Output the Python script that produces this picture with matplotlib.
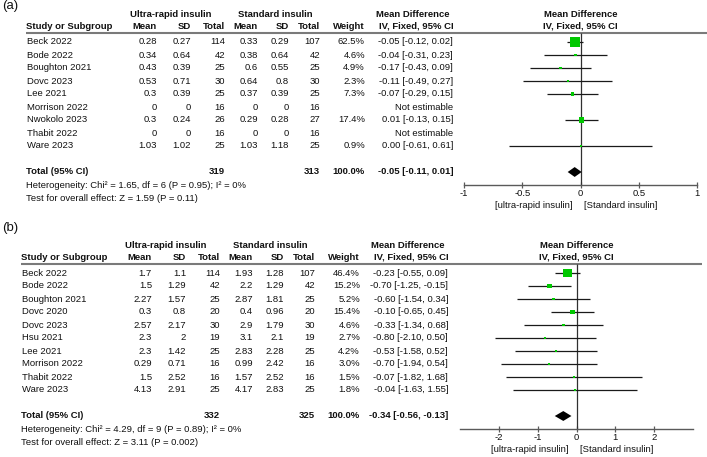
import numpy as np
import matplotlib.pyplot as plt

plt.rcParams['font.family'] = ['Liberation Sans', 'DejaVu Sans']

# ---- panel (a) ----
studies_a = ["Beck 2022", "Bode 2022", "Boughton 2021", "Dovc 2023", "Lee 2021",
             "Morrison 2022", "Nwokolo 2023", "Thabit 2022", "Ware 2023"]
ur_mean_a = [0.28, 0.34, 0.43, 0.53, 0.3, 0, 0.3, 0, 1.03]
ur_sd_a = [0.27, 0.64, 0.39, 0.71, 0.39, 0, 0.24, 0, 1.02]
ur_n_a = [114, 42, 25, 30, 25, 16, 26, 16, 25]
st_mean_a = [0.33, 0.38, 0.6, 0.64, 0.37, 0, 0.29, 0, 1.03]
st_sd_a = [0.29, 0.64, 0.55, 0.8, 0.39, 0, 0.28, 0, 1.18]
st_n_a = [107, 42, 25, 30, 25, 16, 27, 16, 25]
weight_a = [62.5, 4.6, 4.9, 2.3, 7.3, np.nan, 17.4, np.nan, 0.9]
md_a = [-0.05, -0.04, -0.17, -0.11, -0.07, np.nan, 0.01, np.nan, 0.00]
lo_a = [-0.12, -0.31, -0.43, -0.49, -0.29, np.nan, -0.13, np.nan, -0.61]
hi_a = [0.02, 0.23, 0.09, 0.27, 0.15, np.nan, 0.15, np.nan, 0.61]
total_a = dict(n1=319, n2=313, md=-0.05, lo=-0.11, hi=0.01)
het_a = "Heterogeneity: Chi\u00b2 = 1.65, df = 6 (P = 0.95); I\u00b2 = 0%"
test_a = "Test for overall effect: Z = 1.59 (P = 0.11)"

# ---- panel (b) ----
studies_b = ["Beck 2022", "Bode 2022", "Boughton 2021", "Dovc 2020", "Dovc 2023",
             "Hsu 2021", "Lee 2021", "Morrison 2022", "Thabit 2022", "Ware 2023"]
ur_mean_b = [1.7, 1.5, 2.27, 0.3, 2.57, 2.3, 2.3, 0.29, 1.5, 4.13]
ur_sd_b = [1.1, 1.29, 1.57, 0.8, 2.17, 2, 1.42, 0.71, 2.52, 2.91]
ur_n_b = [114, 42, 25, 20, 30, 19, 25, 16, 16, 25]
st_mean_b = [1.93, 2.2, 2.87, 0.4, 2.9, 3.1, 2.83, 0.99, 1.57, 4.17]
st_sd_b = [1.28, 1.29, 1.81, 0.96, 1.79, 2.1, 2.28, 2.42, 2.52, 2.83]
st_n_b = [107, 42, 25, 20, 30, 19, 25, 16, 16, 25]
weight_b = [46.4, 15.2, 5.2, 15.4, 4.6, 2.7, 4.2, 3.0, 1.5, 1.8]
md_b = [-0.23, -0.70, -0.60, -0.10, -0.33, -0.80, -0.53, -0.70, -0.07, -0.04]
lo_b = [-0.55, -1.25, -1.54, -0.65, -1.34, -2.10, -1.58, -1.94, -1.82, -1.63]
hi_b = [0.09, -0.15, 0.34, 0.45, 0.68, 0.50, 0.52, 0.54, 1.68, 1.55]
total_b = dict(n1=332, n2=325, md=-0.34, lo=-0.56, hi=-0.13)
het_b = "Heterogeneity: Chi\u00b2 = 4.29, df = 9 (P = 0.89); I\u00b2 = 0%"
test_b = "Test for overall effect: Z = 3.11 (P = 0.002)"

W, H = 707, 457
fig = plt.figure(figsize=(W / 100, H / 100), dpi=100)

ROW = 13      # px per table row
FS = 6.8
TXT = '#111111'
GREEN = '#00c800'


def add_px_axes(left, top, right, bottom):
    return fig.add_axes([left / W, 1 - bottom / H, (right - left) / W, (bottom - top) / H])


def fmt(v):
    return f"{v:g}"


def panel(tag, tag_y, top, bottom, row0, dx, plot_lr, xlim, ticks, ticklabels,
          studies, m1, s1, n1, m2, s2, n2, w, md, lo, hi, tot, het, test):
    n = len(studies)
    to_row = lambda px: (px - row0) / ROW
    tot_row = n + 1
    axis_row = tot_row + 1

    # table part: x in pixels, y in rows
    tab = add_px_axes(0, top, W, bottom)
    tab.set_xlim(0, W)
    tab.set_ylim(to_row(bottom), to_row(top))
    tab.axis('off')

    tab.text(2, to_row(tag_y), tag, fontsize=9.5, color=TXT, va='center', ha='left')

    h1, h2, line = -2.15, -1.2, -0.68
    bold = dict(fontsize=FS, color=TXT, fontweight='bold', va='center')
    norm = dict(fontsize=FS, color=TXT, va='center')
    tab.text(171 + dx, h1, "Ultra-rapid insulin", ha='center', **bold)
    tab.text(275 + dx, h1, "Standard insulin", ha='center', **bold)
    tab.text(413 + dx, h1, "Mean Difference", ha='center', **bold)
    tab.text(26 + dx, h2, "Study or Subgroup", ha='left', **bold)
    cols = [157, 191, 225, 258, 289, 320, 365]
    for c, lab in zip(cols, ["Mean", "SD", "Total", "Mean", "SD", "Total", "Weight"]):
        tab.text(c + dx, h2, lab, ha='right', **bold)
    tab.text(416 + dx, h2, "IV, Fixed, 95% CI", ha='center', **bold)
    tab.hlines(line, 26 + dx, W + dx, color='#7a7a7a', lw=1.5)

    for i in range(n):
        tab.text(27 + dx, i, studies[i], ha='left', **norm)
        vals = [fmt(m1[i]), fmt(s1[i]), str(n1[i]), fmt(m2[i]), fmt(s2[i]), str(n2[i])]
        for c, v in zip(cols[:6], vals):
            tab.text(c + dx, i, v, ha='right', **norm)
        if np.isnan(md[i]):
            tab.text(453 + dx, i, "Not estimable", ha='right', **norm)
        else:
            tab.text(cols[6] + dx, i, f"{w[i]:.1f}%", ha='right', **norm)
            tab.text(453 + dx, i, f"{md[i]:.2f} [{lo[i]:.2f}, {hi[i]:.2f}]", ha='right', **norm)

    tab.text(26 + dx, tot_row, "Total (95% CI)", ha='left', **bold)
    tab.text(cols[2] + dx, tot_row, str(tot['n1']), ha='right', **bold)
    tab.text(cols[5] + dx, tot_row, str(tot['n2']), ha='right', **bold)
    tab.text(cols[6] + dx, tot_row, "100.0%", ha='right', **bold)
    tab.text(453 + dx, tot_row, f"{tot['md']:.2f} [{tot['lo']:.2f}, {tot['hi']:.2f}]", ha='right', **bold)
    tab.text(26 + dx, tot_row + 1.05, het, ha='left', **norm)
    tab.text(26 + dx, tot_row + 2.05, test, ha='left', **norm)

    # forest part: x in mean difference, y in rows
    axis_px = row0 + ROW * axis_row
    ax = add_px_axes(plot_lr[0], top, plot_lr[1], axis_px)
    ax.set_xlim(*xlim)
    ax.set_ylim(axis_row, to_row(top))
    ax.patch.set_visible(False)
    for s in ['top', 'left', 'right']:
        ax.spines[s].set_visible(False)
    ax.spines['bottom'].set_color('#5a5a5a')
    ax.spines['bottom'].set_linewidth(1.0)
    ax.set_yticks([])
    ax.set_xticks(ticks)
    ax.set_xticklabels(ticklabels)
    ax.tick_params(axis='x', direction='inout', length=5, width=0.9, color='#5a5a5a',
                   labelsize=FS, labelcolor=TXT, pad=0.3)

    ax.vlines(0, line, axis_row, color='#303030', lw=0.9)

    y = np.arange(n)
    md = np.array(md, float)
    lo = np.array(lo, float)
    hi = np.array(hi, float)
    w = np.array(w, float)
    ok = ~np.isnan(md)
    ax.hlines(y[ok], lo[ok], hi[ok], color='#1a1a1a', lw=0.9, zorder=2)
    side_px = np.maximum(1.26 * np.sqrt(w[ok]), 2.0)
    ax.scatter(md[ok], y[ok], marker='s', s=(side_px * 0.72) ** 2, color=GREEN,
               linewidths=0, zorder=3, clip_on=False)

    dh = 0.38
    ax.fill([tot['lo'], tot['md'], tot['hi'], tot['md']],
            [tot_row, tot_row - dh, tot_row, tot_row + dh], color='black', lw=0, zorder=3)

    ax.annotate("[ultra-rapid insulin]", xy=(0, 0), xycoords=('data', 'axes fraction'),
                xytext=(-8, -20), textcoords='offset pixels', ha='right', va='center',
                fontsize=FS, color=TXT)
    ax.annotate("[Standard insulin]", xy=(0, 0), xycoords=('data', 'axes fraction'),
                xytext=(4, -20), textcoords='offset pixels', ha='left', va='center',
                fontsize=FS, color=TXT)

    ax.text(np.mean(xlim), h1, "Mean Difference", ha='center', **bold)
    ax.text(np.mean(xlim), h2, "IV, Fixed, 95% CI", ha='center', **bold)


panel("(a)", 6, 0, 215, 42, 0, (464, 697), (-1, 1), [-1, -0.5, 0, 0.5, 1],
      ["-1", "-0.5", "0", "0.5", "1"],
      studies_a, ur_mean_a, ur_sd_a, ur_n_a, st_mean_a, st_sd_a, st_n_a,
      weight_a, md_a, lo_a, hi_a, total_a, het_a, test_a)

panel("(b)", 228, 215, 457, 273, -5, (460, 693), (-3, 3), [-2, -1, 0, 1, 2],
      ["-2", "-1", "0", "1", "2"],
      studies_b, ur_mean_b, ur_sd_b, ur_n_b, st_mean_b, st_sd_b, st_n_b,
      weight_b, md_b, lo_b, hi_b, total_b, het_b, test_b)

fig.savefig("out.png", dpi=100)
